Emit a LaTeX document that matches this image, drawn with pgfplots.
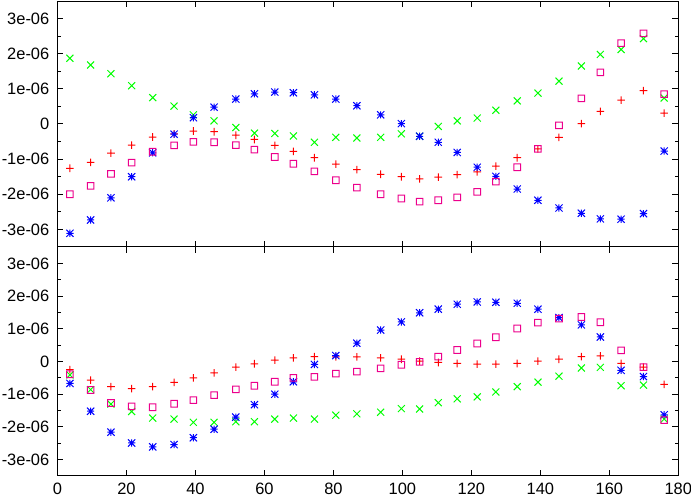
\documentclass[border=0pt]{standalone}
\usepackage{pgfplots}
\pgfplotsset{compat=1.18}
\usepackage{fontspec}
\setmainfont{Liberation Sans}

% gnuplot-like point types (+ and box drawn as filled shapes)
\pgfdeclareplotmark{gpplus}{%
  \pgfpathrectangle{\pgfqpoint{-\pgfplotmarksize}{-0.5bp}}{\pgfqpoint{2\pgfplotmarksize}{1bp}}%
  \pgfpathrectangle{\pgfqpoint{-0.5bp}{-\pgfplotmarksize}}{\pgfqpoint{1bp}{2\pgfplotmarksize}}%
  \pgfusepathqfill}
\pgfdeclareplotmark{gpbox}{%
  \pgfseteorule
  \pgfpathrectangle{\pgfqpoint{\dimexpr-\pgfplotmarksize-0.5bp\relax}{\dimexpr-\pgfplotmarksize-0.5bp\relax}}%
    {\pgfqpoint{\dimexpr2\pgfplotmarksize+1bp\relax}{\dimexpr2\pgfplotmarksize+1bp\relax}}%
  \pgfpathrectangle{\pgfqpoint{\dimexpr-\pgfplotmarksize+0.5bp\relax}{\dimexpr-\pgfplotmarksize+0.5bp\relax}}%
    {\pgfqpoint{\dimexpr2\pgfplotmarksize-1bp\relax}{\dimexpr2\pgfplotmarksize-1bp\relax}}%
  \pgfusepathqfill}
\pgfdeclareplotmark{gpx}{%
  \pgfpathmoveto{\pgfqpoint{-\pgfplotmarksize}{-\pgfplotmarksize}}%
  \pgfpathlineto{\pgfqpoint{\pgfplotmarksize}{\pgfplotmarksize}}%
  \pgfpathmoveto{\pgfqpoint{-\pgfplotmarksize}{\pgfplotmarksize}}%
  \pgfpathlineto{\pgfqpoint{\pgfplotmarksize}{-\pgfplotmarksize}}%
  \pgfusepathqstroke}
\pgfdeclareplotmark{gpstar}{%
  \pgfpathmoveto{\pgfqpoint{-\pgfplotmarksize}{0pt}}%
  \pgfpathlineto{\pgfqpoint{\pgfplotmarksize}{0pt}}%
  \pgfpathmoveto{\pgfqpoint{0pt}{-\pgfplotmarksize}}%
  \pgfpathlineto{\pgfqpoint{0pt}{\pgfplotmarksize}}%
  \pgfpathmoveto{\pgfqpoint{-\pgfplotmarksize}{-\pgfplotmarksize}}%
  \pgfpathlineto{\pgfqpoint{\pgfplotmarksize}{\pgfplotmarksize}}%
  \pgfpathmoveto{\pgfqpoint{-\pgfplotmarksize}{\pgfplotmarksize}}%
  \pgfpathlineto{\pgfqpoint{\pgfplotmarksize}{-\pgfplotmarksize}}%
  \pgfusepathqstroke}

% values in units of 1e-06
\pgfplotstableread{
x     r      g      b      m
3.6   -1.26  1.87   -3.11  -2.00
9.6   -1.09  1.68   -2.73  -1.76
15.5  -0.83  1.43   -2.10  -1.42
21.5  -0.60  1.09   -1.50  -1.10
27.6  -0.37  0.75   -0.82  -0.79
33.8  -0.28  0.51   -0.29  -0.61
39.4  -0.20  0.26   0.18   -0.51
45.4  -0.22  0.09   0.48   -0.52
51.7  -0.32  -0.10  0.71   -0.60
57.1  -0.44  -0.26  0.86   -0.73
63.0  -0.61  -0.27  0.91   -0.94
68.4  -0.78  -0.34  0.89   -1.13
74.5  -0.96  -0.52  0.83   -1.35
80.7  -1.14  -0.38  0.71   -1.60
86.8  -1.30  -0.40  0.52   -1.81
93.7  -1.43  -0.38  0.26   -2.00
99.7  -1.50  -0.28  0.01   -2.12
105.0 -1.56  -0.35  -0.35  -2.21
110.4 -1.51  -0.07  -0.52  -2.17
115.9 -1.44  0.09   -0.81  -2.09
121.7 -1.36  0.17   -1.23  -1.93
127.1 -1.20  0.39   -1.49  -1.64
133.3 -0.96  0.66   -1.85  -1.23
139.3 -0.71  0.88   -2.17  -0.71
145.4 -0.38  1.22   -2.39  -0.04
151.9 0.01   1.65   -2.54  0.73
157.4 0.36   1.98   -2.70  1.47
163.4 0.68   2.12   -2.71  2.30
169.9 0.95   2.43   -2.55  2.58
175.9 0.31   0.74   -0.77  0.85
}\toppanel

\pgfplotstableread{
x     r      g      b      m
3.6   -0.25  -0.41  -0.67  -0.39
9.6   -0.57  -0.86  -1.52  -0.87
15.5  -0.77  -1.30  -2.16  -1.27
21.5  -0.83  -1.53  -2.49  -1.37
27.6  -0.77  -1.73  -2.61  -1.40
33.8  -0.64  -1.76  -2.54  -1.29
39.4  -0.50  -1.86  -2.33  -1.18
45.4  -0.35  -1.86  -2.07  -1.03
51.7  -0.17  -1.84  -1.70  -0.85
57.1  -0.07  -1.84  -1.32  -0.74
63.0  0.04   -1.76  -1.00  -0.62
68.4  0.11   -1.73  -0.62  -0.50
74.5  0.15   -1.76  -0.09  -0.47
80.7  0.14   -1.64  0.18   -0.37
86.8  0.14   -1.60  0.56   -0.31
93.7  0.11   -1.55  0.96   -0.21
99.7  0.07   -1.44  1.21   -0.10
105.0 0.01   -1.45  1.49   -0.01
110.4 -0.03  -1.26  1.60   0.15
115.9 -0.06  -1.14  1.75   0.35
121.7 -0.08  -1.08  1.82   0.55
127.1 -0.08  -0.93  1.81   0.74
133.3 -0.06  -0.77  1.78   1.01
139.3 0.01   -0.63  1.60   1.19
145.4 0.07   -0.45  1.34   1.31
151.9 0.15   -0.20  1.12   1.36
157.4 0.17   -0.18  0.75   1.20
163.4 -0.06  -0.74  -0.27  0.34
169.9 -0.17  -0.72  -0.46  -0.17
175.9 -0.70  -1.76  -1.63  -1.79
}\bottompanel

\pgfplotsset{
  gp/.style={
    scale only axis, width=620.8bp, anchor=south west,
    xmin=0, xmax=180, ymin=-3.5, ymax=3.5,
    xtick={0,20,...,180}, ytick={-3,-2,...,3},
    yticklabels={-3e-06,-2e-06,-1e-06,0,1e-06,2e-06,3e-06},
    /pgf/number format/assume math mode=true,
    minor y tick num=1,
    tick align=inside,
    major tick length=6bp, minor tick length=3.2bp,
    axis line style={line width=1bp},
    every tick/.style={black, line width=1bp},
    tick label style={font=\fontsize{16.5}{18}\selectfont},
    yticklabel style={xshift=-4.7bp},
    xticklabel style={yshift=-3.5bp},
    only marks,
  },
  rr/.style={color=red, mark=gpplus, mark size=3.8bp, mark options={solid, draw=none, fill=red}},
  gg/.style={color=green, mark=gpx, mark size=3.5bp, mark options={solid, draw=green, line width=1bp}},
  bb/.style={color=blue, mark=gpstar, mark size=3.6bp, mark options={solid, draw=blue, line width=1bp}},
  mm/.style={color=magenta, mark=gpbox, mark size=3.3bp, mark options={solid, draw=none, fill=magenta}},
}

\begin{document}
\begin{tikzpicture}
\path[use as bounding box] (0,0) rectangle (691bp,499bp);

\begin{axis}[gp, at={(57.5bp,252bp)}, height=246bp, xticklabels={}]
\addplot[rr] table[x=x, y=r] {\toppanel};
\addplot[gg] table[x=x, y=g] {\toppanel};
\addplot[bb] table[x=x, y=b] {\toppanel};
\addplot[mm] table[x=x, y=m] {\toppanel};
\end{axis}

\begin{axis}[gp, at={(57.5bp,23bp)}, height=229bp]
\addplot[rr] table[x=x, y=r] {\bottompanel};
\addplot[gg] table[x=x, y=g] {\bottompanel};
\addplot[bb] table[x=x, y=b] {\bottompanel};
\addplot[mm] table[x=x, y=m] {\bottompanel};
\end{axis}
\end{tikzpicture}
\end{document}
